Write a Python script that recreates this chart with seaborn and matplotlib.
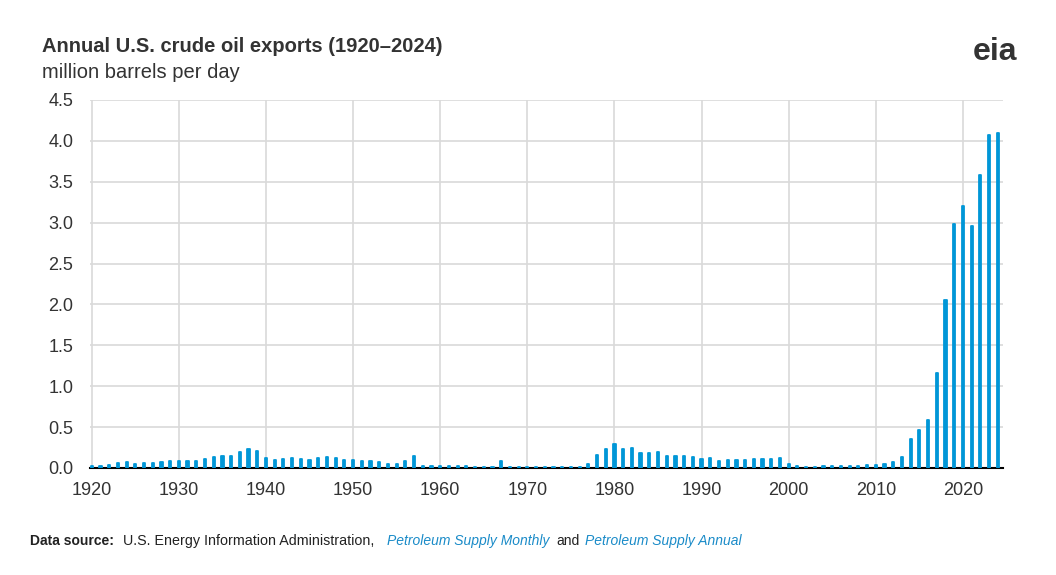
import numpy as np
import pandas as pd
import matplotlib.pyplot as plt
import seaborn as sns

years = list(range(1920, 2025))
exports = [
    0.03, 0.03, 0.04, 0.06, 0.07, 0.05, 0.06, 0.06, 0.07, 0.09,
    0.08, 0.09, 0.09, 0.11, 0.13, 0.15, 0.15, 0.20, 0.23, 0.21,
    0.12, 0.10, 0.11, 0.12, 0.11, 0.10, 0.12, 0.13, 0.12, 0.10,
    0.10, 0.09, 0.09, 0.07, 0.05, 0.05, 0.09, 0.15, 0.02, 0.02,
    0.02, 0.02, 0.02, 0.02, 0.01, 0.01, 0.01, 0.08, 0.01, 0.01,
    0.01, 0.01, 0.01, 0.01, 0.01, 0.01, 0.01, 0.05, 0.16, 0.23,
    0.29, 0.23, 0.24, 0.18, 0.18, 0.20, 0.15, 0.15, 0.15, 0.14,
    0.11, 0.12, 0.09, 0.10, 0.10, 0.10, 0.11, 0.11, 0.11, 0.12,
    0.05, 0.02, 0.01, 0.01, 0.03, 0.03, 0.03, 0.03, 0.03, 0.04,
    0.04, 0.05, 0.07, 0.13, 0.35, 0.47, 0.59, 1.16, 2.05, 2.98,
    3.20, 2.96, 3.58, 4.07, 4.10,
]
df = pd.DataFrame({'year': years, 'exports': exports})

sns.set_style('white')
plt.rcParams['font.family'] = ['Liberation Sans', 'DejaVu Sans']

fig = plt.figure(figsize=(10.56, 5.75), dpi=100)
ax = fig.add_axes([90 / 1056, 107 / 575, 913 / 1056, 368 / 575])

ax.bar(df['year'], df['exports'], width=0.25, color='#0096d7',
       edgecolor='#0096d7', linewidth=1.3, joinstyle='round', zorder=3)

ax.set_xlim(1919.8, 2024.6)
ax.set_ylim(0, 4.5)
ax.set_xticks(range(1920, 2021, 10))
ax.set_yticks(np.arange(0, 4.51, 0.5))
ax.yaxis.set_major_formatter(plt.FuncFormatter(lambda v, _: f'{v:.1f}'))
ax.grid(True, color='#d9d9d9', linewidth=1.2, zorder=0)
ax.set_axisbelow(True)
for s in ['top', 'right', 'left']:
    ax.spines[s].set_visible(False)
ax.spines['bottom'].set_color('black')
ax.spines['bottom'].set_linewidth(1.5)
ax.spines['bottom'].set_zorder(2)
ax.tick_params(axis='x', length=6, width=1.5, color='black', labelsize=13, pad=4)
ax.tick_params(axis='y', length=0, labelsize=13, pad=12)
for lbl in ax.get_xticklabels() + ax.get_yticklabels():
    lbl.set_color('#333333')

fig.text(42 / 1056, 1 - 47 / 575, 'Annual U.S. crude oil exports (1920–2024)',
         fontsize=14.5, fontweight='bold', color='#333333', va='center')
fig.text(42 / 1056, 1 - 72 / 575, 'million barrels per day',
         fontsize=14.5, color='#333333', va='center')
fig.text(995 / 1056, 1 - 52 / 575, 'eia', fontsize=23, fontweight='bold',
         color='#333333', ha='center', va='center')

y_src = 1 - 541 / 575
fig.text(30 / 1056, y_src, 'Data source:', fontsize=10, fontweight='bold', color='#222222', va='center')
fig.text(123 / 1056, y_src, 'U.S. Energy Information Administration,', fontsize=10.3, color='#222222', va='center')
fig.text(387 / 1056, y_src, 'Petroleum Supply Monthly', fontsize=10, style='italic', color='#1a8bc8', va='center')
fig.text(556 / 1056, y_src, 'and', fontsize=10, color='#222222', va='center')
fig.text(585 / 1056, y_src, 'Petroleum Supply Annual', fontsize=10, style='italic', color='#1a8bc8', va='center')

fig.savefig('out.png', dpi=100)
